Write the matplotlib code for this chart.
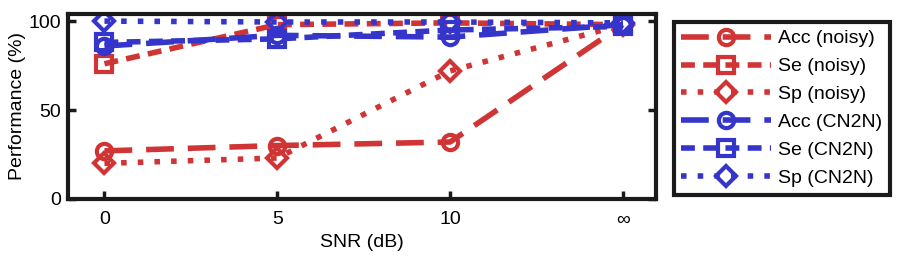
import matplotlib
matplotlib.use("Agg")
import matplotlib.pyplot as plt

plt.rcParams['font.family'] = ['Liberation Sans', 'DejaVu Sans']

x_labels = ['0', '5', '10', '∞']
acc_noisy = [27, 30, 32, 98]
se_noisy = [76, 98, 99, 98]
sp_noisy = [20, 23, 72, 98]
acc_cn2n = [86, 92, 91, 98]
se_cn2n = [88, 90, 95, 97]
sp_cn2n = [100, 99.5, 99.5, 99]

red = '#d03434'
blue = '#3535cc'

fig = plt.figure(figsize=(8.97, 2.59), dpi=100)
ax = fig.add_axes([0.076, 0.232, 0.655, 0.714])
xs = list(range(len(x_labels)))

series = [
    (acc_noisy, red, 'o', (0, (5, 2.5)), 'Acc (noisy)'),
    (se_noisy, red, 's', (0, (2.5, 1.5)), 'Se (noisy)'),
    (sp_noisy, red, 'D', (0, (1, 2)), 'Sp (noisy)'),
    (acc_cn2n, blue, 'o', (0, (5, 2.5)), 'Acc (CN2N)'),
    (se_cn2n, blue, 's', (0, (2.5, 1.5)), 'Se (CN2N)'),
    (sp_cn2n, blue, 'D', (0, (1, 2)), 'Sp (CN2N)'),
]
for vals, c, m, ls, lab in series:
    ms = 11 if m != 'D' else 10
    ax.plot(xs, vals, color=c, marker=m, linestyle=ls, linewidth=4,
            markersize=ms, markerfacecolor='none', markeredgewidth=3,
            label=lab)

ax.set_xlim(-0.21, 3.19)
ax.set_ylim(0, 104)
ax.set_xticks(xs)
ax.set_xticklabels(x_labels)
ax.set_yticks([0, 50, 100])
ax.tick_params(axis='both', labelsize=14, direction='in', length=6, width=2.5,
               top=False, right=True, pad=5, color='#1a1a1a')
ax.tick_params(axis='x', pad=9)
for s in ax.spines.values():
    s.set_linewidth(3)
    s.set_color('#1a1a1a')
ax.set_xlabel('SNR (dB)', fontsize=14, labelpad=4)
ax.set_ylabel('Performance (%)', fontsize=14, labelpad=2)

leg = fig.legend(loc='upper left', bbox_to_anchor=(0.751, 0.915),
                 fontsize=14, frameon=True, fancybox=False, edgecolor='#1a1a1a',
                 handlelength=4.6, borderpad=0.4, labelspacing=0.53,
                 handletextpad=0.35, borderaxespad=0, framealpha=1)
leg.get_frame().set_linewidth(3)

fig.savefig('out.png', dpi=100)
